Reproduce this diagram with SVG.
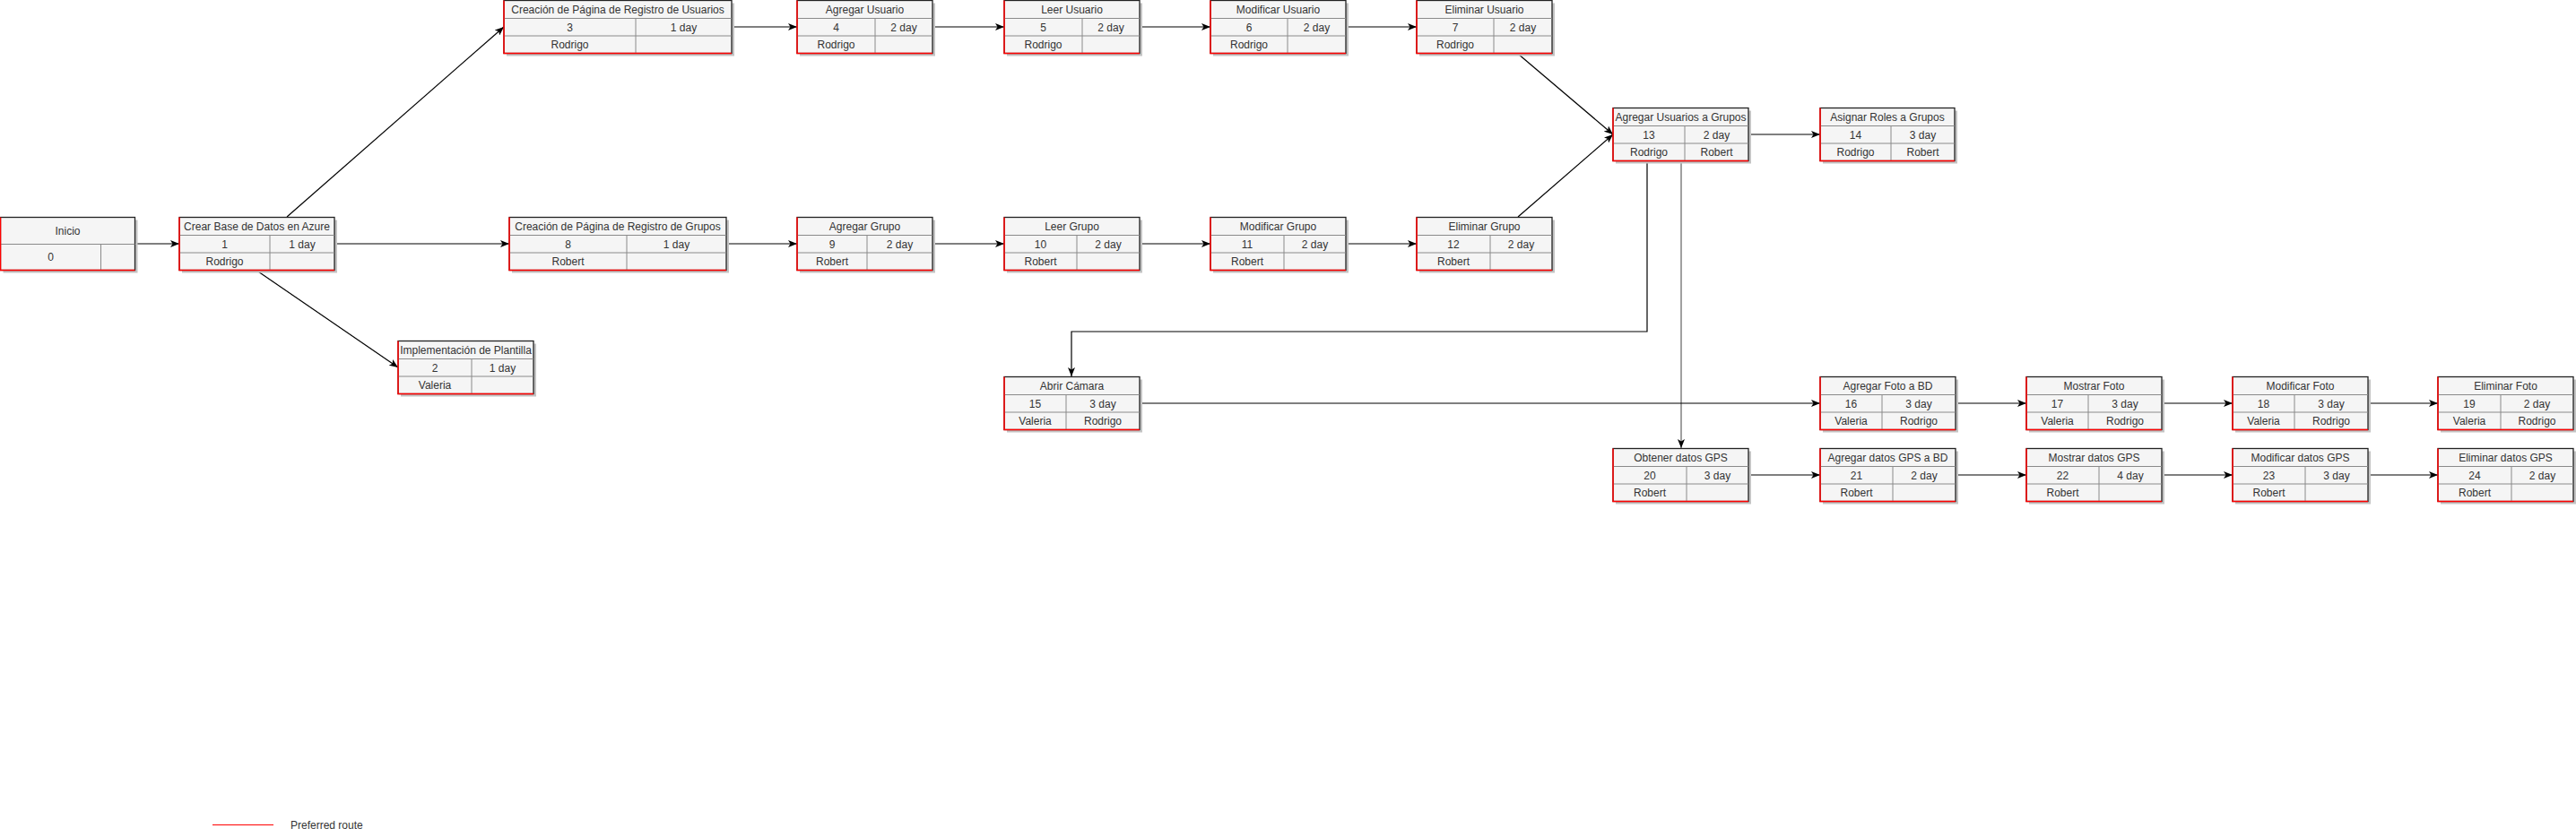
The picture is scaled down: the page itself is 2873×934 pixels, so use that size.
<svg xmlns="http://www.w3.org/2000/svg" width="2873" height="934" viewBox="0 0 2873 934">
<style>
.sh{fill:#c4c4c4}
.bx{fill:#f5f5f5;stroke:#222;stroke-width:1.3}
.in{fill:none;stroke:#8a8a8a;stroke-width:1}
.rd{fill:none;stroke:#ff0000;stroke-width:1.5}
text{font-family:"Liberation Sans",Arial,Helvetica,sans-serif;font-size:12px;fill:#333;text-anchor:middle}
.e{fill:none;stroke:#000;stroke-width:1.2}
.g{fill:none;stroke:#808080;stroke-width:1.5}
</style>
<defs>
<marker id="ar" viewBox="0 0 10 8" refX="10" refY="4" markerWidth="10" markerHeight="8" markerUnits="userSpaceOnUse" orient="auto">
<path d="M0,0L10,4L0,8L2.5,4Z" fill="#000"/>
</marker>
</defs>
<rect width="2873" height="934" fill="#fff"/>
<g id="connectors">
<path class="e" d="M150,272H200" marker-end="url(#ar)"/>
<path class="e" d="M320,242L562,30" marker-end="url(#ar)"/>
<path class="e" d="M373,272H568" marker-end="url(#ar)"/>
<path class="e" d="M286.5,302L444,410" marker-end="url(#ar)"/>
<path class="e" d="M816,30H889" marker-end="url(#ar)"/>
<path class="e" d="M1040,30H1120" marker-end="url(#ar)"/>
<path class="e" d="M1271,30H1350" marker-end="url(#ar)"/>
<path class="e" d="M1501,30H1580" marker-end="url(#ar)"/>
<path class="e" d="M810,272H889" marker-end="url(#ar)"/>
<path class="e" d="M1040,272H1120" marker-end="url(#ar)"/>
<path class="e" d="M1271,272H1350" marker-end="url(#ar)"/>
<path class="e" d="M1501,272H1580" marker-end="url(#ar)"/>
<path class="e" d="M1693,60L1799,150" marker-end="url(#ar)"/>
<path class="e" d="M1693,242L1799,150" marker-end="url(#ar)"/>
<path class="e" d="M1950,150H2030" marker-end="url(#ar)"/>
<path class="e" d="M1837,180V370H1195V420" marker-end="url(#ar)"/>
<path class="g" d="M1875,180V500" marker-end="url(#ar)"/>
<path class="e" d="M1271,450H2030" marker-end="url(#ar)"/>
<path class="e" d="M2181,450H2260" marker-end="url(#ar)"/>
<path class="e" d="M2411,450H2490" marker-end="url(#ar)"/>
<path class="e" d="M2641,450H2719" marker-end="url(#ar)"/>
<path class="e" d="M1950,530H2030" marker-end="url(#ar)"/>
<path class="e" d="M2181,530H2260" marker-end="url(#ar)"/>
<path class="e" d="M2411,530H2490" marker-end="url(#ar)"/>
<path class="e" d="M2641,530H2719" marker-end="url(#ar)"/>
</g>
<g id="n0" transform="translate(0.5,242.5)">
<rect class="sh" x="3" y="3" width="150" height="59"/>
<rect class="bx" width="150" height="59"/>
<path class="in" d="M0,30H150M112,30V59"/>
<path class="rd" d="M0,0V59H150"/>
<text x="75" y="19">Inicio</text>
<text x="56" y="48.5">0</text>
</g>
<g id="n1" transform="translate(200,242.5)">
<rect class="sh" x="3" y="3" width="173" height="59"/>
<rect class="bx" width="173" height="59"/>
<path class="in" d="M0,20H173M0,39.5H173M101,20V59"/>
<path class="rd" d="M0,0V59H173"/>
<text x="86.5" y="14">Crear Base de Datos en Azure</text>
<text x="50.5" y="34">1</text><text x="137" y="34">1 day</text>
<text x="50.5" y="53.5">Rodrigo</text>
</g>
<g id="n3" transform="translate(562,0.5)">
<rect class="sh" x="3" y="3" width="254" height="59"/>
<rect class="bx" width="254" height="59"/>
<path class="in" d="M0,20H254M0,39.5H254M147,20V59"/>
<path class="rd" d="M0,0V59H254"/>
<text x="127" y="14">Creación de Página de Registro de Usuarios</text>
<text x="73.5" y="34">3</text><text x="200.5" y="34">1 day</text>
<text x="73.5" y="53.5">Rodrigo</text>
</g>
<g id="n4" transform="translate(889,0.5)">
<rect class="sh" x="3" y="3" width="151" height="59"/>
<rect class="bx" width="151" height="59"/>
<path class="in" d="M0,20H151M0,39.5H151M87,20V59"/>
<path class="rd" d="M0,0V59H151"/>
<text x="75.5" y="14">Agregar Usuario</text>
<text x="43.5" y="34">4</text><text x="119" y="34">2 day</text>
<text x="43.5" y="53.5">Rodrigo</text>
</g>
<g id="n5" transform="translate(1120,0.5)">
<rect class="sh" x="3" y="3" width="151" height="59"/>
<rect class="bx" width="151" height="59"/>
<path class="in" d="M0,20H151M0,39.5H151M87,20V59"/>
<path class="rd" d="M0,0V59H151"/>
<text x="75.5" y="14">Leer Usuario</text>
<text x="43.5" y="34">5</text><text x="119" y="34">2 day</text>
<text x="43.5" y="53.5">Rodrigo</text>
</g>
<g id="n6" transform="translate(1350,0.5)">
<rect class="sh" x="3" y="3" width="151" height="59"/>
<rect class="bx" width="151" height="59"/>
<path class="in" d="M0,20H151M0,39.5H151M86,20V59"/>
<path class="rd" d="M0,0V59H151"/>
<text x="75.5" y="14">Modificar Usuario</text>
<text x="43" y="34">6</text><text x="118.5" y="34">2 day</text>
<text x="43" y="53.5">Rodrigo</text>
</g>
<g id="n7" transform="translate(1580,0.5)">
<rect class="sh" x="3" y="3" width="151" height="59"/>
<rect class="bx" width="151" height="59"/>
<path class="in" d="M0,20H151M0,39.5H151M86,20V59"/>
<path class="rd" d="M0,0V59H151"/>
<text x="75.5" y="14">Eliminar Usuario</text>
<text x="43" y="34">7</text><text x="118.5" y="34">2 day</text>
<text x="43" y="53.5">Rodrigo</text>
</g>
<g id="n8" transform="translate(568,242.5)">
<rect class="sh" x="3" y="3" width="242" height="59"/>
<rect class="bx" width="242" height="59"/>
<path class="in" d="M0,20H242M0,39.5H242M131,20V59"/>
<path class="rd" d="M0,0V59H242"/>
<text x="121" y="14">Creación de Página de Registro de Grupos</text>
<text x="65.5" y="34">8</text><text x="186.5" y="34">1 day</text>
<text x="65.5" y="53.5">Robert</text>
</g>
<g id="n9" transform="translate(889,242.5)">
<rect class="sh" x="3" y="3" width="151" height="59"/>
<rect class="bx" width="151" height="59"/>
<path class="in" d="M0,20H151M0,39.5H151M78,20V59"/>
<path class="rd" d="M0,0V59H151"/>
<text x="75.5" y="14">Agregar Grupo</text>
<text x="39" y="34">9</text><text x="114.5" y="34">2 day</text>
<text x="39" y="53.5">Robert</text>
</g>
<g id="n10" transform="translate(1120,242.5)">
<rect class="sh" x="3" y="3" width="151" height="59"/>
<rect class="bx" width="151" height="59"/>
<path class="in" d="M0,20H151M0,39.5H151M81,20V59"/>
<path class="rd" d="M0,0V59H151"/>
<text x="75.5" y="14">Leer Grupo</text>
<text x="40.5" y="34">10</text><text x="116" y="34">2 day</text>
<text x="40.5" y="53.5">Robert</text>
</g>
<g id="n11" transform="translate(1350,242.5)">
<rect class="sh" x="3" y="3" width="151" height="59"/>
<rect class="bx" width="151" height="59"/>
<path class="in" d="M0,20H151M0,39.5H151M82,20V59"/>
<path class="rd" d="M0,0V59H151"/>
<text x="75.5" y="14">Modificar Grupo</text>
<text x="41" y="34">11</text><text x="116.5" y="34">2 day</text>
<text x="41" y="53.5">Robert</text>
</g>
<g id="n12" transform="translate(1580,242.5)">
<rect class="sh" x="3" y="3" width="151" height="59"/>
<rect class="bx" width="151" height="59"/>
<path class="in" d="M0,20H151M0,39.5H151M82,20V59"/>
<path class="rd" d="M0,0V59H151"/>
<text x="75.5" y="14">Eliminar Grupo</text>
<text x="41" y="34">12</text><text x="116.5" y="34">2 day</text>
<text x="41" y="53.5">Robert</text>
</g>
<g id="n13" transform="translate(1799,120.5)">
<rect class="sh" x="3" y="3" width="151" height="59"/>
<rect class="bx" width="151" height="59"/>
<path class="in" d="M0,20H151M0,39.5H151M80,20V59"/>
<path class="rd" d="M0,0V59H151"/>
<text x="75.5" y="14">Agregar Usuarios a Grupos</text>
<text x="40" y="34">13</text><text x="115.5" y="34">2 day</text>
<text x="40" y="53.5">Rodrigo</text><text x="115.5" y="53.5">Robert</text>
</g>
<g id="n14" transform="translate(2030,120.5)">
<rect class="sh" x="3" y="3" width="150" height="59"/>
<rect class="bx" width="150" height="59"/>
<path class="in" d="M0,20H150M0,39.5H150M79,20V59"/>
<path class="rd" d="M0,0V59H150"/>
<text x="75" y="14">Asignar Roles a Grupos</text>
<text x="39.5" y="34">14</text><text x="114.5" y="34">3 day</text>
<text x="39.5" y="53.5">Rodrigo</text><text x="114.5" y="53.5">Robert</text>
</g>
<g id="n2" transform="translate(444,380.5)">
<rect class="sh" x="3" y="3" width="151" height="59"/>
<rect class="bx" width="151" height="59"/>
<path class="in" d="M0,20H151M0,39.5H151M82,20V59"/>
<path class="rd" d="M0,0V59H151"/>
<text x="75.5" y="14">Implementación de Plantilla</text>
<text x="41" y="34">2</text><text x="116.5" y="34">1 day</text>
<text x="41" y="53.5">Valeria</text>
</g>
<g id="n15" transform="translate(1120,420.5)">
<rect class="sh" x="3" y="3" width="151" height="59"/>
<rect class="bx" width="151" height="59"/>
<path class="in" d="M0,20H151M0,39.5H151M69,20V59"/>
<path class="rd" d="M0,0V59H151"/>
<text x="75.5" y="14">Abrir Cámara</text>
<text x="34.5" y="34">15</text><text x="110" y="34">3 day</text>
<text x="34.5" y="53.5">Valeria</text><text x="110" y="53.5">Rodrigo</text>
</g>
<g id="n16" transform="translate(2030,420.5)">
<rect class="sh" x="3" y="3" width="151" height="59"/>
<rect class="bx" width="151" height="59"/>
<path class="in" d="M0,20H151M0,39.5H151M69,20V59"/>
<path class="rd" d="M0,0V59H151"/>
<text x="75.5" y="14">Agregar Foto a BD</text>
<text x="34.5" y="34">16</text><text x="110" y="34">3 day</text>
<text x="34.5" y="53.5">Valeria</text><text x="110" y="53.5">Rodrigo</text>
</g>
<g id="n17" transform="translate(2260,420.5)">
<rect class="sh" x="3" y="3" width="151" height="59"/>
<rect class="bx" width="151" height="59"/>
<path class="in" d="M0,20H151M0,39.5H151M69,20V59"/>
<path class="rd" d="M0,0V59H151"/>
<text x="75.5" y="14">Mostrar Foto</text>
<text x="34.5" y="34">17</text><text x="110" y="34">3 day</text>
<text x="34.5" y="53.5">Valeria</text><text x="110" y="53.5">Rodrigo</text>
</g>
<g id="n18" transform="translate(2490,420.5)">
<rect class="sh" x="3" y="3" width="151" height="59"/>
<rect class="bx" width="151" height="59"/>
<path class="in" d="M0,20H151M0,39.5H151M69,20V59"/>
<path class="rd" d="M0,0V59H151"/>
<text x="75.5" y="14">Modificar Foto</text>
<text x="34.5" y="34">18</text><text x="110" y="34">3 day</text>
<text x="34.5" y="53.5">Valeria</text><text x="110" y="53.5">Rodrigo</text>
</g>
<g id="n19" transform="translate(2719,420.5)">
<rect class="sh" x="3" y="3" width="151" height="59"/>
<rect class="bx" width="151" height="59"/>
<path class="in" d="M0,20H151M0,39.5H151M70,20V59"/>
<path class="rd" d="M0,0V59H151"/>
<text x="75.5" y="14">Eliminar Foto</text>
<text x="35" y="34">19</text><text x="110.5" y="34">2 day</text>
<text x="35" y="53.5">Valeria</text><text x="110.5" y="53.5">Rodrigo</text>
</g>
<g id="n20" transform="translate(1799,500.5)">
<rect class="sh" x="3" y="3" width="151" height="59"/>
<rect class="bx" width="151" height="59"/>
<path class="in" d="M0,20H151M0,39.5H151M82,20V59"/>
<path class="rd" d="M0,0V59H151"/>
<text x="75.5" y="14">Obtener datos GPS</text>
<text x="41" y="34">20</text><text x="116.5" y="34">3 day</text>
<text x="41" y="53.5">Robert</text>
</g>
<g id="n21" transform="translate(2030,500.5)">
<rect class="sh" x="3" y="3" width="151" height="59"/>
<rect class="bx" width="151" height="59"/>
<path class="in" d="M0,20H151M0,39.5H151M81,20V59"/>
<path class="rd" d="M0,0V59H151"/>
<text x="75.5" y="14">Agregar datos GPS a BD</text>
<text x="40.5" y="34">21</text><text x="116" y="34">2 day</text>
<text x="40.5" y="53.5">Robert</text>
</g>
<g id="n22" transform="translate(2260,500.5)">
<rect class="sh" x="3" y="3" width="151" height="59"/>
<rect class="bx" width="151" height="59"/>
<path class="in" d="M0,20H151M0,39.5H151M81,20V59"/>
<path class="rd" d="M0,0V59H151"/>
<text x="75.5" y="14">Mostrar datos GPS</text>
<text x="40.5" y="34">22</text><text x="116" y="34">4 day</text>
<text x="40.5" y="53.5">Robert</text>
</g>
<g id="n23" transform="translate(2490,500.5)">
<rect class="sh" x="3" y="3" width="151" height="59"/>
<rect class="bx" width="151" height="59"/>
<path class="in" d="M0,20H151M0,39.5H151M81,20V59"/>
<path class="rd" d="M0,0V59H151"/>
<text x="75.5" y="14">Modificar datos GPS</text>
<text x="40.5" y="34">23</text><text x="116" y="34">3 day</text>
<text x="40.5" y="53.5">Robert</text>
</g>
<g id="n24" transform="translate(2719,500.5)">
<rect class="sh" x="3" y="3" width="151" height="59"/>
<rect class="bx" width="151" height="59"/>
<path class="in" d="M0,20H151M0,39.5H151M82,20V59"/>
<path class="rd" d="M0,0V59H151"/>
<text x="75.5" y="14">Eliminar datos GPS</text>
<text x="41" y="34">24</text><text x="116.5" y="34">2 day</text>
<text x="41" y="53.5">Robert</text>
</g>
<g id="legend">
<path d="M237,920.5H305" stroke="#ff0000" stroke-width="1.2" fill="none"/>
<text x="324" y="924.5" style="text-anchor:start">Preferred route</text>
</g>
</svg>
